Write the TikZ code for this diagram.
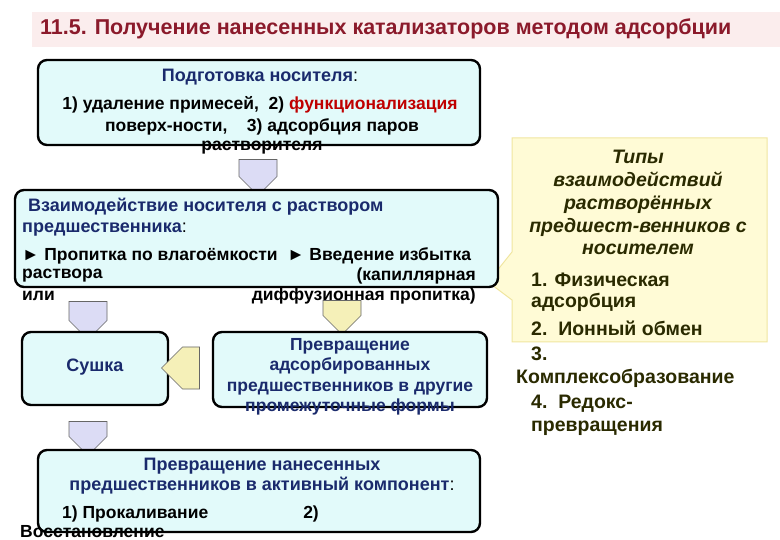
\documentclass[tikz,border=0pt]{standalone}
\usepackage{fontspec}
\setmainfont{Liberation Sans}
\usetikzlibrary{shapes.arrows}
\definecolor{tred}{HTML}{8B1A2B}
\definecolor{tbg}{HTML}{FBEDED}
\definecolor{boxfill}{HTML}{E2FAFA}
\definecolor{navy}{HTML}{1A2A6C}
\definecolor{lav}{HTML}{DCDCF5}
\definecolor{ylw}{HTML}{F5F0B8}
\definecolor{cfill}{HTML}{FFFBD6}
\definecolor{cline}{HTML}{F0E6A0}
\definecolor{olive}{HTML}{2A2A00}
\begin{document}
\begin{tikzpicture}[x=1pt,y=-1pt,
  boxst/.style={draw=black,line width=2.4pt,rounded corners=9pt,fill=boxfill},
  txt/.style={font=\fontsize{18}{20}\selectfont\bfseries,inner sep=0pt},
  nb/.style={font=\fontsize{17.5}{20}\selectfont\bfseries},
  hd/.style={txt,text=navy},
  darr/.style={single arrow,draw=gray!80!black,line width=0.6pt,minimum width=38pt,single arrow head extend=0pt,single arrow tip angle=90,inner sep=0pt,minimum height=36pt,shape border rotate=270},
  ctx/.style={txt,text=olive,font=\fontsize{19.5}{22}\selectfont\bfseries}]
\useasboundingbox (0,0) rectangle (780,540);
\fill[white] (0,0) rectangle (780,540);
\fill[tbg] (32,12) rectangle (780,47);
\node[anchor=west,text=tred,font=\fontsize{21.5}{24}\selectfont\bfseries,inner sep=0pt] (title) at (40,29) {11.5. Получение нанесенных катализаторов методом адсорбции};
% callout
\draw[cline,fill=cfill,line width=1pt] (512,138) -- (767,138) -- (767,342) -- (512,342) -- (512,300) -- (488,282) -- (512,252) -- cycle;
\node[ctx,font=\fontsize{19.5}{22.8}\selectfont\bfseries\itshape,align=center,anchor=north] (ctitle) at (638,150) {Типы\\взаимодействий\\растворённых\\предшест-венников с\\носителем};
\node[ctx,anchor=west] (c1) at (531,280) {1. Физическая};
\node[ctx,anchor=west] (c1b) at (531,302) {адсорбция};
\node[ctx,anchor=west] (c2) at (531,328) {2.\ \ Ионный обмен};
\node[ctx,anchor=west] (c3) at (531,354) {3.};
\node[ctx,anchor=west] (c3b) at (516,378) {Комплексобразование};
\node[ctx,anchor=west] (c4) at (531,404) {4.\ \ Редокс-};
\node[ctx,anchor=west] (c4b) at (531,428) {превращения};
% box1
\draw[boxst] (38,60) rectangle (480,145);
\node[hd] (b1t) at (260,77) {Подготовка носителя\textcolor{black}{\mdseries:}};
\node[txt,nb] (b1a) at (260,105) {1) удаление примесей,\ \ 2) \textcolor{red!75!black}{функционализация}};
\node[txt,nb] (b1b) at (262,127) {поверх-ности,\ \ \ \ 3) адсорбция паров};
\node[txt,nb] (b1c) at (262,148) {растворителя};
% arrows
\node[darr,fill=lav] (a1) at (258,168) {};
% box2
\draw[boxst] (15,190) rectangle (498,287);
\node[hd,anchor=west] (b2t) at (28,207) {Взаимодействие носителя с раствором};
\node[hd,anchor=west] (b2u) at (22,230) {предшественника\textcolor{black}{\mdseries:}};
\node[txt,nb,anchor=west] (b2a) at (22,256) {► Пропитка по влагоёмкости\ \ ► Введение избытка};
\node[txt,nb,anchor=west] (b2b) at (22,276) {раствора};
\node[txt,nb,anchor=east] (b2c) at (476,276) {(капиллярная};
\node[txt,nb,anchor=west] (b2d) at (22,296) {или};
\node[txt,nb,anchor=east] (b2e) at (476,296) {диффузионная пропитка)};
\node[darr,fill=lav,minimum height=38pt] (a2) at (88,311) {};
\node[darr,fill=ylw,minimum height=34pt] (a3) at (342,308) {};
% box3
\draw[boxst] (22,332) rectangle (168,405);
\node[hd] (b3) at (95,367) {Сушка};
% box4
\draw[boxst] (213,332) rectangle (487,407);
\node[hd,align=center,font=\fontsize{17.5}{20.5}\selectfont\bfseries,anchor=north] (b4) at (350,338) {Превращение\\адсорбированных\\предшественников в другие\\промежуточные формы};
\node[darr,fill=ylw,shape border rotate=180,minimum height=38pt,minimum width=42pt] (a4) at (191,368) {};
\node[darr,fill=lav,minimum height=34pt] (a5) at (88,429) {};
% box5
\draw[boxst] (38,450) rectangle (480,532);
\node[hd] (b5a) at (262,466) {Превращение нанесенных};
\node[hd] (b5b) at (262,486) {предшественников в активный компонент\textcolor{black}{\mdseries:}};
\node[txt,nb,anchor=west] (b5c) at (62,514) {1) Прокаливание\hspace{95pt}2)};
\node[txt,nb,anchor=west] (b5d) at (20,532) {Восстановление};
\end{tikzpicture}
\end{document}
